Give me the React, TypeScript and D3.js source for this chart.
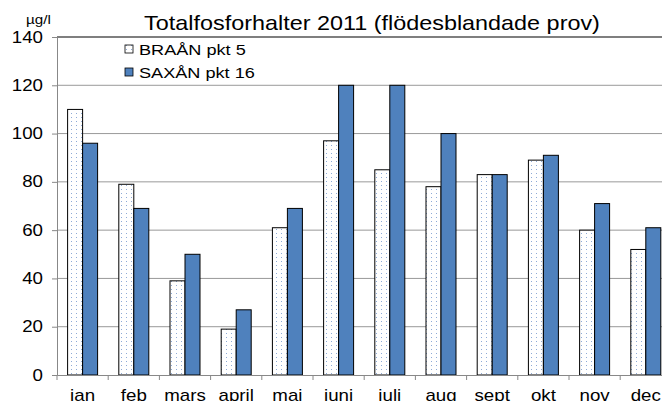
import { useRef, useEffect } from "react";
import * as d3 from "d3";

const months = ["jan", "feb", "mars", "april", "maj", "juni", "juli", "aug", "sept", "okt", "nov", "dec"];
const series = ["BRAÅN pkt 5", "SAXÅN pkt 16"];
const braan = [110, 79, 39, 19, 61, 97, 85, 78, 83, 89, 60, 52];
const saxan = [96, 69, 50, 27, 69, 120, 120, 100, 83, 91, 71, 61];
const yTicks = [0, 20, 40, 60, 80, 100, 120, 140];

const FONT = "'Liberation Sans', Arial, sans-serif";
const SX = 1.17; // the original picture is stretched sideways

const App = () => {
  const ref = useRef<SVGSVGElement>(null);

  useEffect(() => {
    const svg = d3.select(ref.current);
    svg.selectAll("*").remove();

    const left = 57;
    const top = 37;
    const bottom = 375;
    const step = 51.2;

    const label = (x: number, y: number, txt: string, size: number, anchor = "start") =>
      svg
        .append("text")
        .attr("transform", `translate(${x},${y}) scale(${SX},1)`)
        .attr("text-anchor", anchor)
        .attr("font-family", FONT)
        .attr("font-size", size)
        .attr("fill", "#000")
        .text(txt);

    const defs = svg.append("defs");
    const pat = defs
      .append("pattern")
      .attr("id", "dots")
      .attr("patternUnits", "userSpaceOnUse")
      .attr("width", 5)
      .attr("height", 4);
    pat.append("rect").attr("width", 5).attr("height", 4).attr("fill", "#fff");
    pat.append("rect").attr("x", 1).attr("y", 1).attr("width", 1).attr("height", 1).attr("fill", "#8eaad6");

    const x = d3.scaleBand<string>().domain(months).range([left, left + step * 12]).padding(0);
    const x1 = d3
      .scaleBand<string>()
      .domain(series)
      .range([0, x.bandwidth()])
      .paddingInner(0)
      .paddingOuter(0.707);
    const y = d3.scaleLinear().domain([0, 140]).range([bottom, top]);

    // grid
    svg
      .append("g")
      .selectAll("line")
      .data(yTicks.filter(d => d > 0 && d < 140))
      .enter()
      .append("line")
      .attr("x1", left)
      .attr("x2", 662)
      .attr("y1", d => y(d))
      .attr("y2", d => y(d))
      .attr("stroke", "#999")
      .attr("stroke-width", 1);

    svg
      .append("line")
      .attr("x1", left)
      .attr("x2", 662)
      .attr("y1", y(140))
      .attr("y2", y(140))
      .attr("stroke", "#000")
      .attr("stroke-width", 1.2);

    // y axis
    const yAxis = svg
      .append("g")
      .attr("transform", `translate(${left},0)`)
      .call(d3.axisLeft(y).tickValues(yTicks).tickSize(5).tickFormat(() => ""));
    yAxis.select(".domain").attr("stroke", "#888");
    yAxis.selectAll(".tick line").attr("stroke", "#888");
    yTicks.forEach(t => label(43, y(t) + 5.5, String(t), 16, "end"));

    // bars
    const vals = [braan, saxan];
    const g = svg.append("g");
    months.forEach((m, i) => {
      series.forEach((s, j) => {
        g.append("rect")
          .attr("x", (x(m) as number) + (x1(s) as number))
          .attr("y", y(vals[j][i]))
          .attr("width", x1.bandwidth())
          .attr("height", bottom - y(vals[j][i]))
          .attr("fill", j === 0 ? "url(#dots)" : "#4f81bd")
          .attr("stroke", "#000")
          .attr("stroke-width", 1);
      });
    });

    // x axis
    const xAxis = svg
      .append("g")
      .attr("transform", `translate(0,${bottom})`)
      .call(d3.axisBottom(x).tickSize(0).tickFormat(() => ""));
    xAxis.select(".domain").attr("stroke", "#888");
    xAxis
      .selectAll(".sep")
      .data(d3.range(13))
      .enter()
      .append("line")
      .attr("x1", i => left + i * step)
      .attr("x2", i => left + i * step)
      .attr("y1", 0)
      .attr("y2", 5)
      .attr("stroke", "#888");
    months.forEach(m => label((x(m) as number) + x.bandwidth() / 2, 401, m, 16, "middle"));

    // title and unit
    label(372, 30, "Totalfosforhalter 2011 (flödesblandade prov)", 20, "middle");
    label(26, 24, "µg/l", 13);

    // legend
    series.forEach((s, j) => {
      svg
        .append("rect")
        .attr("x", 125)
        .attr("y", 45 + j * 23)
        .attr("width", 8)
        .attr("height", 8)
        .attr("fill", j === 0 ? "url(#dots)" : "#4f81bd")
        .attr("stroke", "#000")
        .attr("stroke-width", 0.8);
      label(139, 55 + j * 23, s, 15.5);
    });
  }, []);

  return (
    <svg
      ref={ref}
      width={662}
      height={401}
      style={{ position: "absolute", left: 0, top: 0, background: "#fff" }}
    />
  );
};

export default App;
